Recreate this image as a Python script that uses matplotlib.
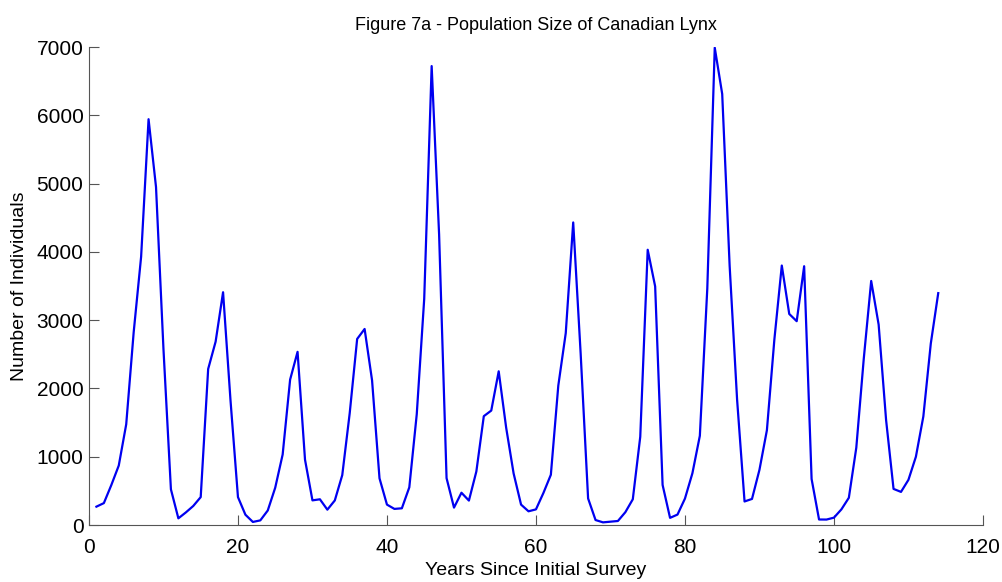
import numpy as np
import matplotlib.pyplot as plt

plt.rcParams['font.family'] = ['Liberation Sans', 'DejaVu Sans']

# annual lynx trappings, 114 surveys
lynx = [269, 321, 585, 871, 1475, 2821, 3928, 5943, 4950, 2577, 523, 98, 184, 279,
        409, 2285, 2685, 3409, 1824, 409, 151, 45, 68, 213, 546, 1033, 2129, 2536,
        957, 361, 377, 225, 360, 731, 1638, 2725, 2871, 2119, 684, 299, 236, 245,
        552, 1623, 3311, 6721, 4254, 687, 255, 473, 358, 784, 1594, 1676, 2251,
        1426, 756, 299, 201, 229, 469, 736, 2042, 2811, 4431, 2511, 389, 73, 39,
        49, 59, 188, 377, 1292, 4031, 3495, 587, 105, 153, 387, 758, 1307, 3465,
        6991, 6313, 3794, 1836, 345, 382, 808, 1388, 2713, 3800, 3091, 2985, 3790,
        674, 81, 80, 108, 229, 399, 1132, 2432, 3574, 2935, 1537, 529, 485, 662,
        1000, 1590, 2657, 3396]
years = np.arange(1, len(lynx) + 1)

fig = plt.figure(figsize=(10.03, 5.82), dpi=100)
ax = fig.add_axes([0.0887, 0.0979, 0.8913, 0.8213])
ax.plot(years, lynx, color='#0000f0', lw=1.6)

ax.set_xlim(0, 120)
ax.set_ylim(0, 7000)
ax.set_xticks(np.arange(0, 121, 20))
ax.set_yticks(np.arange(0, 7001, 1000))
for s in ['top', 'right']:
    ax.spines[s].set_visible(False)
for s in ['left', 'bottom']:
    ax.spines[s].set_color('#555555')
ax.tick_params(direction='in', length=7, color='#555555', labelsize=15, pad=4)
ax.tick_params(axis='x', pad=9)

ax.set_xlabel('Years Since Initial Survey', fontsize=14, labelpad=4)
ax.set_ylabel('Number of Individuals', fontsize=14, labelpad=6)
ax.set_title('Figure 7a - Population Size of Canadian Lynx', fontsize=13, pad=12)

fig.savefig('out.png', dpi=100)
